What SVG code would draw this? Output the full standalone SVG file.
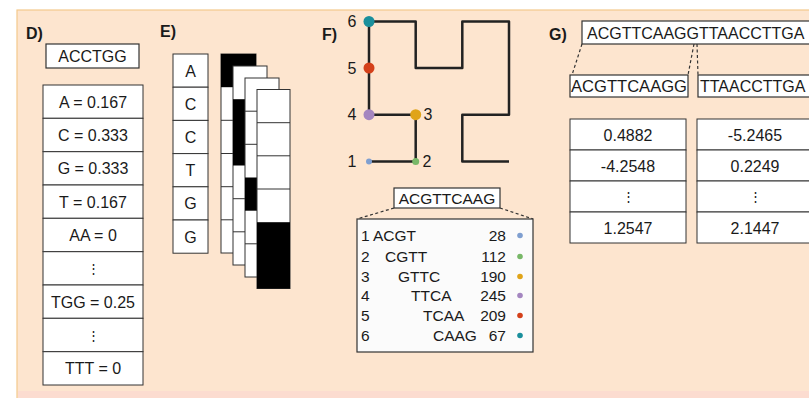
<svg xmlns="http://www.w3.org/2000/svg" width="809" height="398" viewBox="0 0 809 398">
<style>
text{font-family:"Liberation Sans",Arial,sans-serif;fill:#1a1a1a}
.lbl{font-weight:bold;font-size:16px}
.t16{font-size:16px}
.t15{font-size:15.5px}
.c{text-anchor:middle}
.r{text-anchor:end}
.box{fill:#fff;stroke:#333;stroke-width:1.2}
.cell{fill:#fff;stroke:#333;stroke-width:1}
.blk{fill:#000}
.dash{fill:none;stroke:#333;stroke-width:1.2;stroke-dasharray:3 2.5}
.dot{font-size:13px}
</style>
<rect x="0" y="0" width="809" height="398" fill="#fff"/>
<rect x="17" y="10" width="800" height="400" fill="#fde5cf" stroke="#f3c98c" stroke-width="1.2"/>
<rect x="18" y="391" width="791" height="7" fill="#fcdcd0"/>

<g id="panel-D">
<text class="lbl" x="26" y="39">D)</text>
<rect class="box" x="46" y="44" width="93" height="24"/>
<text class="t16 c" x="92.5" y="62">ACCTGG</text>
<g id="D-table">
<rect class="cell" x="43" y="85" width="100" height="33.3"/>
<rect class="cell" x="43" y="118.3" width="100" height="33.3"/>
<rect class="cell" x="43" y="151.7" width="100" height="33.3"/>
<rect class="cell" x="43" y="185" width="100" height="33.3"/>
<rect class="cell" x="43" y="218.3" width="100" height="33.3"/>
<rect class="cell" x="43" y="251.7" width="100" height="33.3"/>
<rect class="cell" x="43" y="285" width="100" height="33.3"/>
<rect class="cell" x="43" y="318.3" width="100" height="33.3"/>
<rect class="cell" x="43" y="351.7" width="100" height="33.3"/>
<text class="t16 c" x="93" y="107.5">A = 0.167</text>
<text class="t16 c" x="93" y="140.8">C = 0.333</text>
<text class="t16 c" x="93" y="174.2">G = 0.333</text>
<text class="t16 c" x="93" y="207.5">T = 0.167</text>
<text class="t16 c" x="93" y="240.8">AA = 0</text>
<text class="dot c" x="93" y="273">⋮</text>
<text class="t16 c" x="93" y="307.5">TGG = 0.25</text>
<text class="dot c" x="93" y="340">⋮</text>
<text class="t16 c" x="93" y="374.2">TTT = 0</text>
</g>
</g>

<g id="panel-E">
<text class="lbl" x="160" y="37">E)</text>
<g id="E-seq">
<rect class="cell" x="173" y="54" width="35" height="33.2"/>
<rect class="cell" x="173" y="87.2" width="35" height="33.2"/>
<rect class="cell" x="173" y="120.4" width="35" height="33.2"/>
<rect class="cell" x="173" y="153.6" width="35" height="33.2"/>
<rect class="cell" x="173" y="186.8" width="35" height="33.2"/>
<rect class="cell" x="173" y="220" width="35" height="33.2"/>
<text class="t16 c" x="190.5" y="76.5">A</text>
<text class="t16 c" x="190.5" y="109.7">C</text>
<text class="t16 c" x="190.5" y="142.9">C</text>
<text class="t16 c" x="190.5" y="176.1">T</text>
<text class="t16 c" x="190.5" y="209.3">G</text>
<text class="t16 c" x="190.5" y="242.5">G</text>
</g>
<g id="E-layer1" transform="translate(221,54)">
<rect class="cell" x="0" y="0" width="35" height="199"/>
<rect class="blk" x="0" y="0" width="35" height="33.2"/>
<path d="M0 66.3H35M0 99.5H35M0 132.7H35M0 165.8H35" stroke="#333" stroke-width="1"/>
</g>
<g id="E-layer2" transform="translate(233,66)">
<rect class="cell" x="0" y="0" width="34" height="199"/>
<rect class="blk" x="0" y="33.2" width="34" height="66.3"/>
<path d="M0 132.7H34M0 165.8H34" stroke="#333" stroke-width="1"/>
</g>
<g id="E-layer3" transform="translate(245,78)">
<rect class="cell" x="0" y="0" width="34" height="199"/>
<rect class="blk" x="0" y="99.5" width="34" height="33.2"/>
<path d="M0 33.2H34M0 66.3H34M0 165.8H34" stroke="#333" stroke-width="1"/>
</g>
<g id="E-layer4" transform="translate(257,89.5)">
<rect class="cell" x="0" y="0" width="33" height="199"/>
<rect class="blk" x="0" y="132.7" width="33" height="66.3"/>
<path d="M0 33.2H33M0 66.3H33M0 99.5H33" stroke="#333" stroke-width="1"/>
</g>
</g>

<g id="panel-F">
<text class="lbl" x="322" y="40">F)</text>
<g id="connectors">
<path d="M369 161.5H415.7V114.7H369V21.5H415.7V68H462.3V21.5H509V114.7H462.3V161.5H509" fill="none" stroke="#222" stroke-width="2.5" stroke-linejoin="round"/>
</g>
<g id="F-node1"><circle cx="369" cy="161.5" r="3" fill="#7f9fd0"/><text class="t16 c" x="352" y="167">1</text></g>
<g id="F-node2"><circle cx="415.7" cy="161.5" r="3.5" fill="#78b868"/><text class="t16 c" x="427" y="167">2</text></g>
<g id="F-node3"><circle cx="415.7" cy="114.7" r="5.5" fill="#e0a419"/><text class="t16 c" x="428" y="120">3</text></g>
<g id="F-node4"><circle cx="369" cy="114.7" r="5.5" fill="#a486c0"/><text class="t16 c" x="352" y="120">4</text></g>
<g id="F-node5"><circle cx="369" cy="68" r="5.5" fill="#d4401a"/><text class="t16 c" x="352" y="73.5">5</text></g>
<g id="F-node6"><circle cx="369" cy="21.5" r="5.5" fill="#1a8f9c"/><text class="t16 c" x="352" y="26.5">6</text></g>
<g id="F-seq">
<rect class="box" x="394" y="188" width="106" height="20"/>
<text class="t15 c" x="447" y="203.5">ACGTTCAAG</text>
</g>
<path class="dash" d="M394 208L357 219M500 208L533 219"/>
<g id="F-table">
<rect x="357" y="219" width="176" height="133" fill="#fbfbfb" stroke="#333" stroke-width="1.2"/>
<text class="t15" x="361" y="240.5">1</text>
<text class="t15" x="361" y="261.5">2</text>
<text class="t15" x="361" y="281.5">3</text>
<text class="t15" x="361" y="300.5">4</text>
<text class="t15" x="361" y="320.5">5</text>
<text class="t15" x="361" y="340.5">6</text>
<text class="t15" x="373" y="240.5">ACGT</text>
<text class="t15" x="385" y="261.5">CGTT</text>
<text class="t15" x="398" y="281.5">GTTC</text>
<text class="t15" x="411" y="300.5">TTCA</text>
<text class="t15" x="423" y="320.5">TCAA</text>
<text class="t15" x="433" y="340.5">CAAG</text>
<text class="t15 r" x="506" y="240.5">28</text>
<text class="t15 r" x="506" y="261.5">112</text>
<text class="t15 r" x="506" y="281.5">190</text>
<text class="t15 r" x="506" y="300.5">245</text>
<text class="t15 r" x="506" y="320.5">209</text>
<text class="t15 r" x="506" y="340.5">67</text>
<circle cx="520" cy="235.5" r="2.8" fill="#7f9fd0"/>
<circle cx="520" cy="256.5" r="2.8" fill="#78b868"/>
<circle cx="520" cy="276.5" r="2.8" fill="#e0a419"/>
<circle cx="520" cy="295.5" r="2.8" fill="#a486c0"/>
<circle cx="520" cy="315.5" r="2.8" fill="#d4401a"/>
<circle cx="520" cy="335.5" r="2.8" fill="#1a8f9c"/>
</g>
</g>

<g id="panel-G">
<text class="lbl" x="549" y="40">G)</text>
<g id="G-seq">
<rect class="box" x="582" y="21" width="240" height="23"/>
<text class="t16" x="587" y="38.5">ACGTTCAAGGTTAACCTTGA</text>
</g>
<path class="dash" d="M582 44L572 75M694 44L688 75M697 44L698 75" stroke-width="1"/>
<g id="G-left">
<rect class="box" x="570" y="75" width="118" height="22"/>
<text class="t16" x="571" y="92" textLength="116" lengthAdjust="spacingAndGlyphs">ACGTTCAAGG</text>
</g>
<g id="G-right">
<rect class="box" x="698" y="75" width="130" height="22"/>
<text class="t16" x="700" y="92">TTAACCTTGA</text>
</g>
<g id="G-table1">
<rect class="cell" x="570" y="119" width="116" height="31"/>
<rect class="cell" x="570" y="150" width="116" height="31"/>
<rect class="cell" x="570" y="181" width="116" height="31"/>
<rect class="cell" x="570" y="212" width="116" height="31"/>
<text class="t16 c" x="628" y="140.5">0.4882</text>
<text class="t16 c" x="628" y="171.5">-4.2548</text>
<text class="dot c" x="628" y="201">⋮</text>
<text class="t16 c" x="628" y="233.5">1.2547</text>
</g>
<g id="G-table2">
<rect class="cell" x="697" y="119" width="116" height="31"/>
<rect class="cell" x="697" y="150" width="116" height="31"/>
<rect class="cell" x="697" y="181" width="116" height="31"/>
<rect class="cell" x="697" y="212" width="116" height="31"/>
<text class="t16 c" x="755" y="140.5">-5.2465</text>
<text class="t16 c" x="755" y="171.5">0.2249</text>
<text class="dot c" x="755" y="201">⋮</text>
<text class="t16 c" x="755" y="233.5">2.1447</text>
</g>
</g>
</svg>
